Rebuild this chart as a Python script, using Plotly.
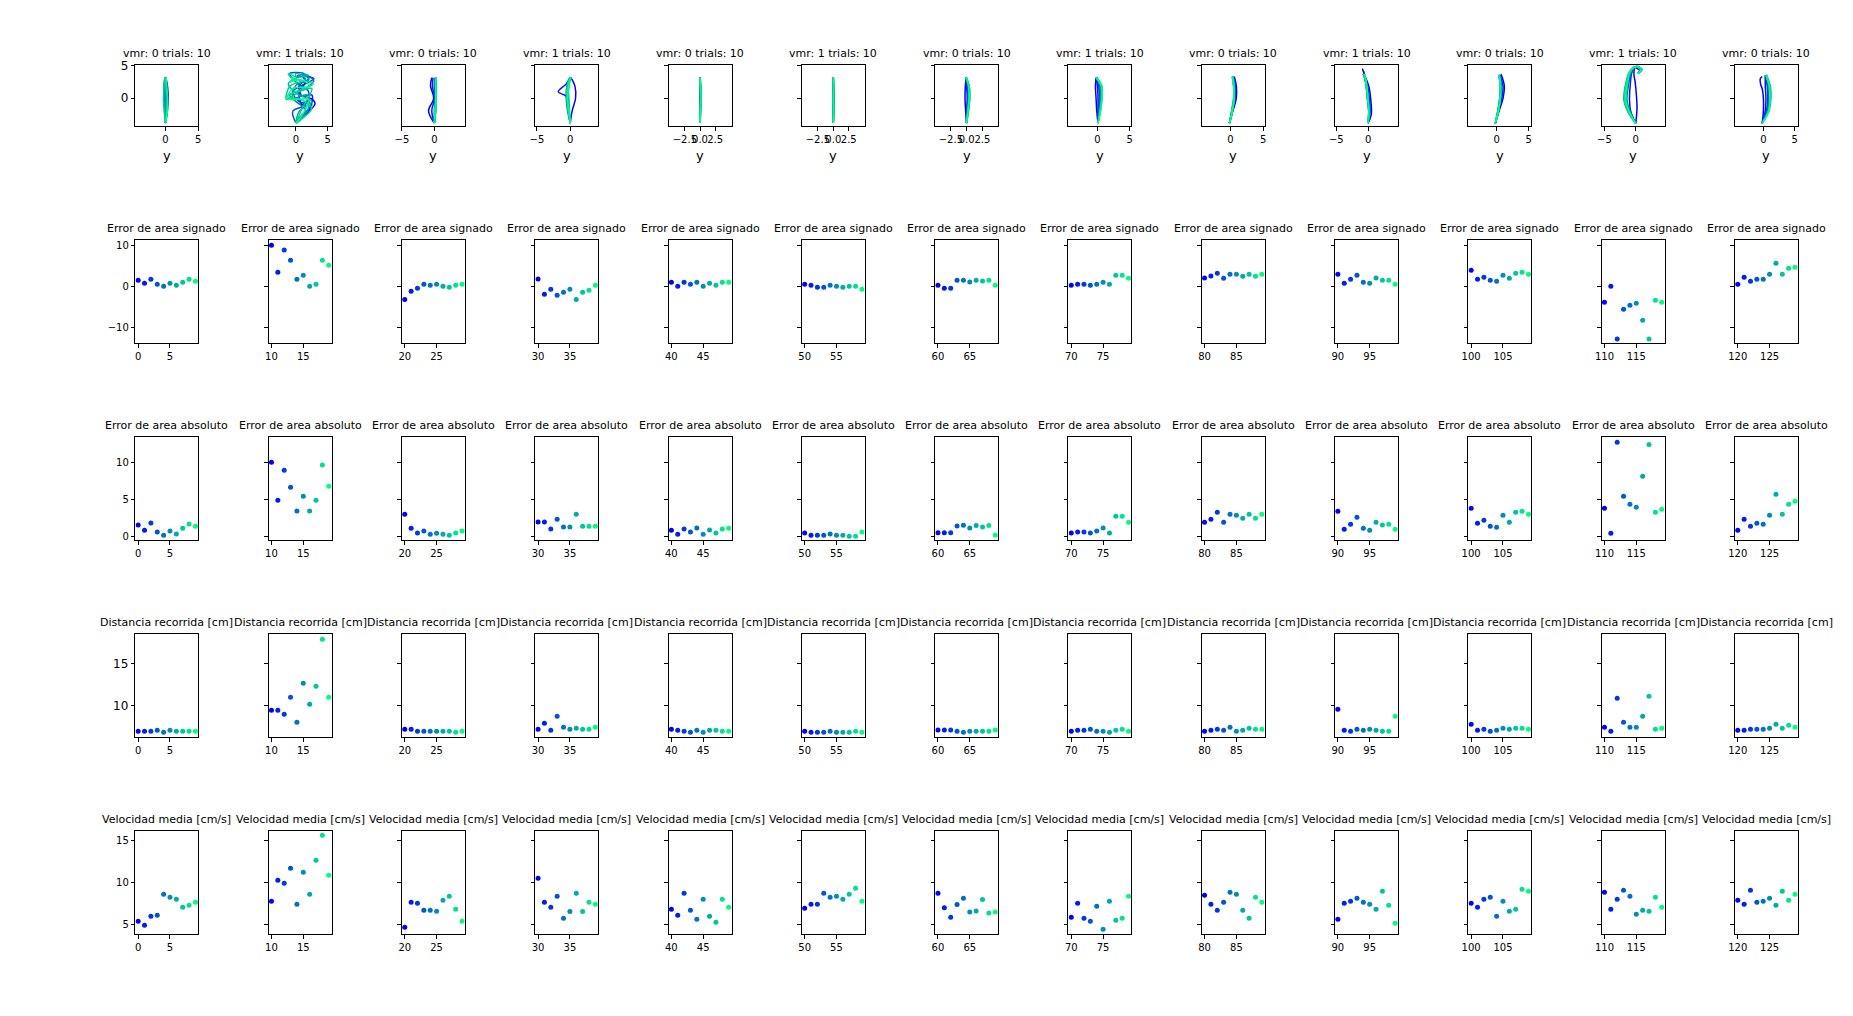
import plotly.graph_objects as go

# ---------------- data ----------------
VMR = [0, 1, 0, 1, 0, 1, 0, 1, 0, 1, 0, 1, 0]
N_TRIALS = [10] * 13
TRIAL = list(range(130))

SIGNED_ERR = [
    1.46, 0.73, 1.71, 0.49, 0.0, 0.73, 0.24, 0.98, 1.71, 1.22,
    10.0, 3.41, 8.86, 6.34, 1.71, 2.68, 0.0, 0.49, 6.34, 5.12,
    -3.25, -1.22, -0.49, 0.49, 0.24, 0.49, 0.0, -0.24, 0.24, 0.49,
    1.79, -1.95, -0.73, -2.2, -1.46, -0.73, -3.25, -1.46, -0.98, 0.24,
    0.98, 0.0, 0.98, 0.49, 0.98, 0.0, 0.73, 0.24, 0.98, 0.98,
    0.49, 0.24, -0.24, -0.24, 0.24, 0.0, -0.24, 0.0, 0.0, -0.73,
    0.23, -0.46, -0.46, 1.49, 1.49, 1.03, 1.49, 1.26, 1.49, 0.23,
    0.24, 0.49, 0.49, 0.24, 0.49, 0.98, 0.49, 2.68, 2.68, 1.95,
    2.03, 2.52, 3.17, 1.95, 2.93, 2.93, 2.44, 2.93, 2.44, 2.93,
    2.93, 0.73, 1.71, 2.68, 0.98, 0.73, 2.03, 1.46, 1.46, 0.49,
    3.9, 1.71, 2.2, 1.46, 1.22, 2.68, 1.95, 3.17, 3.41, 2.93,
    -3.9, 0.0, -12.85, -5.6, -4.63, -4.15, -8.3, -12.85, -3.41, -3.9,
    0.49, 2.2, 1.22, 1.71, 1.71, 2.93, 5.6, 2.93, 4.39, 4.63,
]
ABS_ERR = [
    1.61, 0.89, 1.88, 0.67, 0.22, 0.80, 0.40, 1.16, 1.74, 1.43,
    10.0, 4.91, 8.93, 6.65, 3.48, 5.45, 3.48, 4.91, 9.64, 6.79,
    3.04, 1.16, 0.54, 0.80, 0.36, 0.49, 0.36, 0.22, 0.54, 0.80,
    2.0, 2.0, 1.07, 2.37, 1.34, 1.34, 3.04, 1.43, 1.43, 1.43,
    0.89, 0.36, 1.07, 0.67, 1.2, 0.36, 0.94, 0.54, 1.07, 1.16,
    0.54, 0.22, 0.22, 0.22, 0.40, 0.22, 0.22, 0.09, 0.09, 0.67,
    0.57, 0.57, 0.57, 1.46, 1.58, 1.2, 1.52, 1.33, 1.52, 0.25,
    0.54, 0.67, 0.67, 0.54, 0.80, 1.2, 0.54, 2.77, 2.77, 1.96,
    1.96, 2.37, 3.3, 1.96, 3.04, 2.9, 2.5, 3.04, 2.5, 3.04,
    3.44, 1.03, 1.7, 2.63, 1.16, 0.89, 1.96, 1.61, 1.7, 1.03,
    3.84, 1.83, 2.23, 1.43, 1.29, 2.9, 1.96, 3.3, 3.44, 3.04,
    3.84, 0.49, 12.68, 5.45, 4.38, 3.97, 8.13, 12.41, 3.3, 3.7,
    0.89, 2.37, 1.43, 1.83, 1.7, 2.9, 5.71, 3.04, 4.38, 4.78,
]
DISTANCE = [
    6.88, 6.88, 6.88, 7.0, 6.76, 7.0, 6.88, 6.88, 6.88, 6.88,
    9.4, 9.4, 8.92, 10.96, 7.96, 12.64, 10.12, 12.28, 17.92, 10.96,
    7.12, 7.12, 6.88, 6.88, 6.88, 6.88, 6.88, 6.88, 6.76, 6.88,
    7.12, 7.84, 7.0, 8.68, 7.36, 7.12, 7.24, 7.12, 7.12, 7.36,
    7.12, 7.0, 6.88, 6.76, 7.0, 6.76, 7.0, 7.0, 6.88, 6.88,
    6.88, 6.76, 6.76, 6.76, 6.88, 6.76, 6.76, 6.76, 6.88, 6.76,
    7.05, 7.05, 7.05, 6.88, 6.76, 6.88, 6.88, 6.88, 6.88, 7.05,
    6.88, 7.0, 7.0, 7.12, 6.88, 6.88, 6.76, 7.0, 7.12, 6.88,
    6.88, 7.0, 7.12, 7.0, 7.36, 6.88, 7.0, 7.24, 7.12, 7.12,
    9.52, 7.0, 6.88, 7.12, 7.0, 7.12, 7.0, 6.88, 6.88, 8.68,
    7.72, 7.0, 7.12, 6.88, 7.0, 7.24, 7.12, 7.24, 7.24, 7.12,
    7.36, 6.88, 10.84, 7.96, 7.36, 7.36, 8.68, 11.08, 7.12, 7.24,
    7.0, 7.0, 7.12, 7.12, 7.12, 7.24, 7.72, 7.24, 7.6, 7.36,
]
SPEED = [
    5.36, 4.88, 5.95, 6.07, 8.57, 8.21, 7.98, 7.02, 7.26, 7.62,
    7.74, 10.24, 9.88, 11.67, 7.38, 11.19, 8.57, 12.62, 15.6, 10.83,
    4.64, 7.62, 7.5, 6.67, 6.67, 6.55, 7.86, 8.33, 6.79, 5.36,
    10.48, 7.62, 7.02, 8.33, 5.71, 6.51, 8.69, 6.51, 7.62, 7.38,
    6.79, 6.07, 8.69, 6.67, 5.6, 7.98, 5.95, 5.24, 7.98, 7.02,
    6.9, 7.38, 7.38, 8.69, 8.21, 8.33, 7.98, 8.57, 9.29, 7.74,
    8.69, 6.97, 5.83, 7.37, 8.11, 6.46, 6.57, 7.94, 6.34, 6.46,
    5.83, 7.5, 5.71, 5.36, 7.14, 4.40, 7.74, 5.48, 5.71, 8.33,
    8.45, 7.38, 6.67, 7.62, 8.81, 8.57, 6.67, 5.71, 8.21, 7.62,
    5.6, 7.5, 7.74, 8.1, 7.62, 7.38, 6.79, 8.93, 7.26, 5.12,
    7.5, 7.02, 7.98, 8.21, 5.95, 7.74, 6.55, 6.79, 9.17, 8.93,
    8.81, 6.79, 7.98, 9.05, 8.33, 6.19, 6.67, 6.55, 8.21, 7.02,
    7.86, 7.38, 9.05, 7.62, 7.74, 8.1, 7.26, 8.93, 7.86, 8.57,
]
METRIC_TITLES = ["Error de area signado", "Error de area absoluto",
                 "Distancia recorrida [cm]", "Velocidad media [cm/s]"]

# trajectories (x = lateral "y" coordinate, y = forward coordinate)
Y5 = [-3.8, -1.9, 0.0, 1.9, 3.15]

traj01_x = [[0.0, 0.3, 0.4, 0.3, 0.05], [0.0, 0.2, 0.3, 0.2, 0.0], [0.0, 0.1, 0.2, 0.1, 0.0],
            [0.0, 0.1, 0.0, -0.1, 0.0], [0.0, 0.0, -0.1, -0.2, -0.1], [0.0, -0.1, -0.2, -0.2, -0.1],
            [0.0, 0.1, 0.1, 0.0, 0.0], [0.0, -0.2, -0.3, -0.2, -0.1], [0.0, 0.2, 0.3, 0.1, 0.1],
            [0.0, 0.3, 0.3, 0.2, 0.1]]
traj01_y = [Y5] * 10

traj02_x = [[0, 1.5, 3, 2.2, 1, 0.5, 1.5, 0.8, 0], [0, 2, 2.5, 1, 0.5, 2, 1, 0],
            [0, 1, 2.5, 0.5, -0.5, 1, 2.8, 0.5, 0], [0, -0.5, 1.5, 2, 0, -1, 1.2, 0],
            [0, 1.5, 0, -1, 1.5, 2.8, 0.8, 0], [0, 2, 1.8, -0.5, 0, 2, 1.5, 0],
            [0, 0.5, 2.5, 0, -1.2, 1, 2, 0], [0, 1, 2.5, 0.5, -1.5, -1, 1.5, 0, 0],
            [0, 2.5, 1, -1.4, 0.5, 2.7, -0.8, -1.2, 0], [0, 1.2, 2, -1.3, -0.5, 2.2, 1, -1, 0]]
traj02_y = [[-3.8, -2.5, -0.8, 0, -1, 1, 2.5, 3.5, 3.2], [-3.8, -2, 0.5, 0.3, 2, 3, 3.6, 3.2],
            [-3.8, -2.5, -1, -0.5, 1, 2, 3, 3.5, 3.2], [-3.8, -2, -1, 1, 2.5, 3.8, 3.8, 3.2],
            [-3.8, -1.8, -0.5, 0.5, 1.5, 2.8, 3.5, 3.2], [-3.8, -1.5, 0.5, 0, 2, 2.8, 3.7, 3.2],
            [-3.8, -2, -0.5, 0.8, 2.2, 3.5, 3.5, 3.2], [-3.8, -1.5, 1.5, 1, -0.2, 1.8, 3, 3.8, 3.2],
            [-3.8, -1.5, -0.3, 0.3, 1.2, 2.2, 3.2, 3.8, 3.2], [-3.8, -2.2, -0.2, -0.1, 1.5, 1.8, 2.8, 2.5, 3.2]]

traj03_x = [[0.0, -0.9, -0.1, -0.6, -0.4], [0.0, -0.4, 0.0, -0.3, -0.2], [0.0, 0.0, 0.1, 0.0, 0.1],
            [0.0, 0.1, 0.2, 0.2, 0.2], [0.0, 0.2, 0.2, 0.1, 0.2], [0.0, 0.1, 0.3, 0.3, 0.2],
            [0.0, 0.2, 0.2, 0.2, 0.2], [0.0, 0.1, 0.2, 0.2, 0.2], [0.0, 0.2, 0.3, 0.2, 0.2],
            [0.0, 0.1, 0.2, 0.2, 0.2]]
traj03_y = [Y5] * 10

traj04_x = [[0, 0.3, 0.8, 0.7, 0.1], [0, -0.3, -0.6, -1.8, -0.6, 0],
            [0, -0.3, -0.5, -0.4, 0], [0, -0.2, -0.4, -0.3, 0.1], [0, -0.4, -0.6, -0.5, 0],
            [0, -0.2, -0.3, -0.2, 0], [0, -0.3, -0.4, -0.5, -0.1], [0, -0.1, -0.2, -0.3, 0],
            [0, -0.3, -0.5, -0.4, 0], [0, -0.2, -0.4, -0.2, 0.1]]
traj04_y = [Y5, [-3.8, -1.5, 0.3, 1.0, 2.2, 3.15]] + [Y5] * 8

traj05_x = [[0, 0.05, 0.1, 0.05, 0], [0, -0.05, 0, 0.05, 0], [0, 0.1, 0.1, 0, 0],
            [0, 0, 0.05, 0.05, 0], [0, 0.05, 0.1, 0.1, 0], [0, 0.1, 0.15, 0.1, 0],
            [0, 0, 0.1, 0.05, 0], [0, 0.05, 0.1, 0.1, 0.05], [0, 0.1, 0.15, 0.1, 0.05],
            [0, 0.05, 0.1, 0.05, 0]]
traj05_y = [Y5] * 10

traj06_x = [[0, 0.0, 0.05, 0.0, 0], [0, 0.05, 0.05, 0.0, 0], [0, 0.0, 0.0, 0.05, 0],
            [0, 0.05, 0.0, 0.0, 0], [0, 0.0, 0.05, 0.05, 0], [0, 0.05, 0.05, 0.0, 0],
            [0, 0.0, 0.0, 0.0, 0], [0, 0.05, 0.05, 0.05, 0], [0, 0.0, 0.05, 0.0, 0],
            [0, 0.05, 0.0, 0.05, 0]]
traj06_y = [Y5] * 10

traj07_x = [[0, -0.15, -0.25, -0.2, -0.05], [0, 0.0, 0.1, 0.0, -0.1], [0, 0.1, 0.2, 0.1, -0.1],
            [0, 0.2, 0.3, 0.2, -0.1], [0, 0.1, 0.3, 0.3, 0.0], [0, 0.2, 0.4, 0.3, -0.1],
            [0, 0.3, 0.5, 0.4, -0.1], [0, 0.2, 0.4, 0.4, 0.0], [0, 0.3, 0.5, 0.4, -0.1],
            [0, 0.2, 0.4, 0.3, -0.1]]
traj07_y = [Y5] * 10

traj08_x = [[0.1, -0.1, -0.2, -0.3, -0.2], [0.1, 0.1, 0.1, 0.0, -0.2], [0.1, 0.2, 0.3, 0.2, -0.2],
            [0.1, 0.3, 0.4, 0.4, -0.1], [0.1, 0.3, 0.5, 0.5, -0.1], [0.1, 0.4, 0.6, 0.5, -0.2],
            [0.1, 0.4, 0.6, 0.6, -0.1], [0.1, 0.5, 0.7, 0.6, -0.1], [0.1, 0.4, 0.7, 0.7, -0.1],
            [0.1, 0.5, 0.7, 0.6, -0.2]]
traj08_y = [Y5] * 10

traj09_x = [[-0.15, 0.4, 0.9, 0.9, 0.6], [-0.15, 0.3, 0.7, 0.7, 0.5], [-0.15, 0.3, 0.6, 0.6, 0.4],
            [-0.15, 0.2, 0.5, 0.5, 0.4], [-0.15, 0.3, 0.6, 0.6, 0.3], [-0.15, 0.3, 0.6, 0.5, 0.3],
            [-0.15, 0.2, 0.5, 0.5, 0.3], [-0.15, 0.3, 0.6, 0.6, 0.4], [-0.15, 0.3, 0.6, 0.5, 0.3],
            [-0.15, 0.3, 0.5, 0.5, 0.3]]
traj09_y = [[-3.8, -1.9, 0.0, 1.9, 3.3]] * 10

Y10 = [-3.8, -1.9, 0.0, 1.9, 3.0, 3.7]
traj10_x = [[0, 0.5, 0.4, 0.1, -0.4, -0.9, -0.6], [0, 0.3, 0.2, -0.1, -0.4, -0.8],
            [0, 0.2, 0.0, -0.2, -0.4, -0.7], [0, 0.1, -0.1, -0.3, -0.5, -0.7],
            [0, 0.2, 0.0, -0.2, -0.4, -0.6], [0, 0.1, -0.1, -0.3, -0.5, -0.7],
            [0, 0.2, 0.0, -0.2, -0.5, -0.8], [0, 0.1, -0.1, -0.3, -0.5, -0.7],
            [0, 0.1, -0.1, -0.3, -0.4, -0.6], [0, 0.1, 0.0, -0.2, -0.4, -0.6]]
traj10_y = [[-3.8, -2.5, 0, 1.9, 3.2, 4.5, 3.9]] + [Y10] * 9

Y11 = [-3.84, -1.9, 0.0, 1.9, 3.57]
traj11_x = [[-0.2, 0.4, 1.0, 1.2, 0.7], [-0.2, 0.3, 0.8, 1.0, 0.5], [-0.2, 0.3, 0.6, 0.7, 0.4],
            [-0.2, 0.2, 0.5, 0.6, 0.4], [-0.2, 0.3, 0.6, 0.7, 0.3], [-0.2, 0.2, 0.5, 0.6, 0.4],
            [-0.2, 0.3, 0.6, 0.7, 0.4], [-0.2, 0.3, 0.5, 0.6, 0.3], [-0.2, 0.2, 0.5, 0.6, 0.4],
            [-0.2, 0.3, 0.6, 0.6, 0.4]]
traj11_y = [[-3.84, -1.9, 0.0, 1.9, 3.67]] + [Y11] * 9

traj12_x = [[0, 0.2, 0.1, -0.1, -0.3, -0.1, 0.6],
            [0, -0.8, -1.0, -0.9, -0.6, 0.1, 0.8, 0.4],
            [0, -1.0, -1.6, -1.3, -0.8, 0.0, 0.9, 0.4],
            [0, -1.2, -1.8, -1.5, -0.9, 0.0, 0.9, 0.4],
            [0, -0.9, -1.4, -1.2, -0.7, 0.1, 1.0, 0.3],
            [0, -1.1, -1.7, -1.6, -1.0, 0.0, 0.9, 0.4],
            [0, -1.3, -1.9, -1.7, -1.0, -0.1, 0.8, 0.4],
            [0, -1.0, -1.5, -1.4, -0.9, 0.0, 0.9, 0.3],
            [0, -1.2, -1.8, -1.6, -1.0, 0.0, 1.0, 0.4],
            [0, -1.1, -1.6, -1.4, -0.9, 0.1, 0.9, 0.4]]
traj12_y = [[-3.84, -1.5, 0.5, 2.5, 3.8, 4.7, 4.3]] + [[-3.84, -2.0, -0.3, 1.8, 4.0, 4.85, 4.45, 3.85]] * 9

Y13 = [-3.84, -1.9, 0.0, 1.9, 3.57]
traj13_x = [[-0.2, 0.0, 0.0, -0.2, -0.4, -0.5, -0.2], [-0.2, 0.3, 0.4, 0.3, 0.3],
            [-0.2, 0.5, 0.7, 0.6, 0.3], [-0.2, 0.6, 0.8, 0.7, 0.4], [-0.2, 0.7, 1.0, 0.9, 0.4],
            [-0.2, 0.8, 1.0, 0.9, 0.4], [-0.2, 0.8, 1.1, 1.0, 0.5], [-0.2, 0.9, 1.2, 1.1, 0.4],
            [-0.2, 0.8, 1.1, 1.0, 0.5], [-0.2, 0.9, 1.0, 0.9, 0.4]]
traj13_y = [[-3.84, -1.9, 0.0, 1.5, 2.0, 3.0, 3.3]] + [Y13] * 9

TRAJ_X = [traj01_x, traj02_x, traj03_x, traj04_x, traj05_x, traj06_x, traj07_x,
          traj08_x, traj09_x, traj10_x, traj11_x, traj12_x, traj13_x]
TRAJ_Y = [traj01_y, traj02_y, traj03_y, traj04_y, traj05_y, traj06_y, traj07_y,
          traj08_y, traj09_y, traj10_y, traj11_y, traj12_y, traj13_y]

# ---------------- layout constants ----------------
W, H = 1853, 1016
NC = 13
AX_LEFT0, AX_PITCH, AX_W = 135.3, 133.3, 63.0
ROW_TOP = [65.0, 240.3, 437.0, 634.0, 831.0]
ROW_BOT = [126.0, 343.3, 540.3, 737.3, 934.3]

TRAJ_XRANGE = [(-4.6, 5.0), (-4.3, 5.6), (-5.0, 4.7), (-5.26, 4.2), (-5.2, 5.2), (-5.1, 5.1),
               (-5.0, 5.0), (-4.48, 5.26), (-4.4, 5.25), (-5.2, 4.7), (-4.4, 5.4),
               (-5.45, 4.6), (-4.55, 5.5)]
TRAJ_YRANGE = (-4.25, 5.1)
ROW_YRANGE = [(-13.9, 11.2), (-0.45, 13.4), (6.16, 18.56), (3.81, 16.11)]
ROW_YTICKS = [[-10, 0, 10], [0, 5, 10], [10, 15], [5, 10, 15]]


def winter(t):
    return f"rgb(0,{round(255 * t)},{round(255 * (1 - 0.5 * t))})"


def mlab(v):
    s = f"{v:g}"
    return s.replace("-", "\u2212")


FONT = "DejaVu Sans"
fig = go.Figure()
layout = {}
annotations = []

axis_common = dict(showline=True, mirror=True, linecolor="black", linewidth=1,
                   ticks="outside", ticklen=3.5, tickwidth=0.8, tickcolor="black",
                   showgrid=False, zeroline=False, tickangle=0, automargin=False,
                   tickfont=dict(family=FONT, size=10, color="black"))

for r in range(5):
    for c in range(NC):
        n = r * NC + c + 1
        sfx = "" if n == 1 else str(n)
        x0 = (AX_LEFT0 + AX_PITCH * c) / W
        x1 = (AX_LEFT0 + AX_PITCH * c + AX_W) / W
        y0 = 1 - ROW_BOT[r] / H
        y1 = 1 - ROW_TOP[r] / H
        xa = dict(axis_common, domain=[x0, x1], anchor="y" + sfx)
        ya = dict(axis_common, domain=[y0, y1], anchor="x" + sfx)
        if r == 0:
            lo, hi = TRAJ_XRANGE[c]
            xa["range"] = [lo, hi]
            if c in (4, 5, 6):
                tv = [-2.5, 0.0, 2.5]
                tt = ["\u22122.5", "0.0", "2.5"]
            else:
                tv = [t for t in (-5, 0, 5) if lo <= t <= hi]
                tt = [mlab(t) for t in tv]
            xa["tickvals"] = tv
            xa["ticktext"] = tt
            ya["range"] = list(TRAJ_YRANGE)
            ya["tickvals"] = [0, 5]
            ya["ticktext"] = ["0", "5"]
            ya["tickfont"] = dict(family=FONT, size=12, color="black")
            title = f"vmr: {VMR[c]} trials: {N_TRIALS[c]}"
            for k in range(len(TRAJ_X[c])):
                fig.add_trace(go.Scatter(
                    x=TRAJ_X[c][k], y=TRAJ_Y[c][k], mode="lines",
                    line=dict(color=winter(k / 9), width=1.5, shape="spline", smoothing=1.0),
                    xaxis="x" + sfx, yaxis="y" + sfx, showlegend=False, hoverinfo="skip"))
            annotations.append(dict(text="y", xref="paper", yref="paper",
                                    x=(x0 + x1) / 2, y=1 - 156 / H, xanchor="center",
                                    yanchor="middle", showarrow=False,
                                    font=dict(family=FONT, size=13, color="black")))
        else:
            m = r - 1
            data = [SIGNED_ERR, ABS_ERR, DISTANCE, SPEED][m]
            xs = TRIAL[10 * c:10 * c + 10]
            ys = data[10 * c:10 * c + 10]
            xa["range"] = [xs[0] - 0.45, xs[0] + 9.45]
            xa["tickvals"] = [xs[0], xs[0] + 5]
            xa["ticktext"] = [str(xs[0]), str(xs[0] + 5)]
            ya["range"] = list(ROW_YRANGE[m])
            ya["tickvals"] = ROW_YTICKS[m]
            ya["ticktext"] = [mlab(t) for t in ROW_YTICKS[m]]
            if m == 2:
                ya["tickfont"] = dict(family=FONT, size=12, color="black")
            title = METRIC_TITLES[m]
            fig.add_trace(go.Scatter(
                x=xs, y=ys, mode="markers",
                marker=dict(color=[winter(k / 9) for k in range(10)], size=5, line=dict(width=0)),
                xaxis="x" + sfx, yaxis="y" + sfx, showlegend=False))
        if c > 0:
            ya["showticklabels"] = False
        layout["xaxis" + sfx] = xa
        layout["yaxis" + sfx] = ya
        annotations.append(dict(text=title, xref="paper", yref="paper",
                                x=(x0 + x1) / 2, y=y1, xanchor="center", yanchor="bottom",
                                yshift=3, showarrow=False,
                                font=dict(family=FONT, size=11, color="black")))

fig.update_layout(**layout)
fig.update_layout(width=W, height=H, autosize=False,
                  margin=dict(l=0, r=0, t=0, b=0, pad=0, autoexpand=False),
                  paper_bgcolor="white", plot_bgcolor="white",
                  annotations=annotations, showlegend=False)
fig.write_html("out.html", config={"displayModeBar": False},
               post_script="document.body.style.margin='0';document.body.style.padding='0';"
                           "document.body.style.overflow='hidden';")
